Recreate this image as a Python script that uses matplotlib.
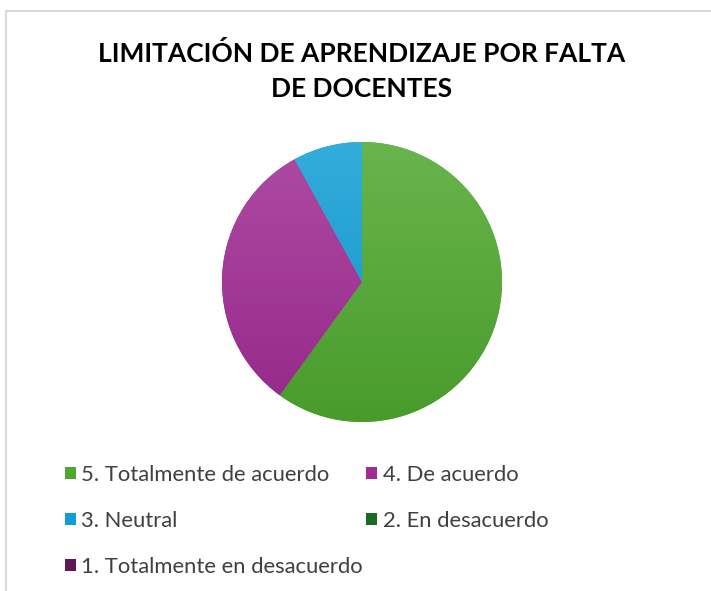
import numpy as np
import matplotlib.pyplot as plt
from matplotlib.colors import to_rgb
from matplotlib.patches import Patch
from matplotlib.lines import Line2D

TITLE = "LIMITACIÓN DE APRENDIZAJE POR FALTA\nDE DOCENTES"
labels = ["5. Totalmente de acuerdo", "4. De acuerdo", "3. Neutral",
          "2. En desacuerdo", "1. Totalmente en desacuerdo"]
values = [15, 8, 2, 0, 0]
colors = ["#4EA72E", "#A02B93", "#0F9ED5", "#196B24", "#5F1A55"]

plt.rcParams["font.family"] = ["Lato", "DejaVu Sans"]

W, H = 711, 591
fig = plt.figure(figsize=(W / 100, H / 100), dpi=100)
fig.patch.set_facecolor("white")

# chart frame (only left and top edges visible in the crop)
fig.add_artist(Line2D([6 / W, 6 / W], [0, 1 - 11 / H], transform=fig.transFigure,
                      color="#d9d9d9", lw=1.5))
fig.add_artist(Line2D([6 / W, 1], [1 - 11 / H, 1 - 11 / H], transform=fig.transFigure,
                      color="#d9d9d9", lw=1.5))

cx, cy, r = 362, 282, 140
ax = fig.add_axes([(cx - r) / W, 1 - (cy + r) / H, 2 * r / W, 2 * r / H])
wedges, _ = ax.pie(values, colors=colors, startangle=90, counterclock=False,
                   wedgeprops=dict(linewidth=0, edgecolor="none"))
ax.set_xlim(-1.0, 1.0)
ax.set_ylim(-1.0, 1.0)
ax.set_aspect("equal")


def shade(c, t):
    # t in [0,1]: 0 -> bottom (slightly darker), 1 -> top (lighter)
    base = np.array(to_rgb(c))
    light = base + (1 - base) * 0.15
    dark = base * 0.93
    return dark + (light - dark) * t


for w, c, v in zip(wedges, colors, values):
    if v == 0:
        continue
    t = np.linspace(0, 1, 256)
    img = np.array([shade(c, ti) for ti in t])[:, None, :]
    img = np.repeat(img, 2, axis=1)
    im = ax.imshow(img, extent=[-1, 1, -1, 1], origin="lower", zorder=3,
                   interpolation="bilinear", aspect="auto")
    im.set_clip_path(w)

fig.text(362 / W, 1 - 71 / H, TITLE, ha="center", va="center", fontsize=19,
         fontweight="bold", color="black", linespacing=1.55)

handles = [Patch(facecolor=c, edgecolor="none") for c in colors]
order = [0, 2, 4, 1, 3]
leg = fig.legend([handles[i] for i in order], [labels[i] for i in order],
                 ncol=2, loc="upper left", bbox_to_anchor=(65 / W, 1 - 465 / H),
                 frameon=False, fontsize=15.8, handlelength=0.5, handleheight=0.5,
                 handletextpad=0.25, labelspacing=1.18, columnspacing=0.15,
                 borderpad=0, borderaxespad=0, labelcolor="#404040")

fig.savefig("out.png", dpi=100, facecolor="white")
